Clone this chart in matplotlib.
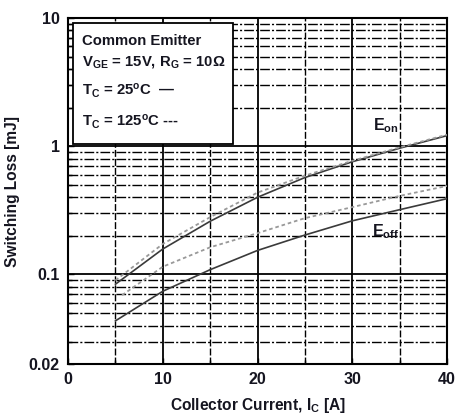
import matplotlib
matplotlib.use("Agg")
import matplotlib.pyplot as plt
from matplotlib.patches import Rectangle
from matplotlib.ticker import FixedLocator, NullFormatter

plt.rcParams["font.family"] = "Liberation Sans"
plt.rcParams["font.weight"] = "bold"
plt.rcParams["mathtext.fontset"] = "custom"
plt.rcParams["mathtext.rm"] = "Liberation Sans:bold"
plt.rcParams["mathtext.it"] = "Liberation Sans:bold"
plt.rcParams["mathtext.bf"] = "Liberation Sans:bold"
plt.rcParams["mathtext.default"] = "rm"

TEXT = "#151520"

# collector current [A] and switching loss [mJ]
ic = [5, 10, 15, 20, 25, 30, 35, 40]
eon_25 = [0.084, 0.158, 0.26, 0.40, 0.57, 0.757, 0.965, 1.21]
eon_125 = [0.09, 0.173, 0.28, 0.435, 0.59, 0.77, 0.98, 1.23]
eoff_25 = [0.0435, 0.074, 0.109, 0.154, 0.203, 0.262, 0.32, 0.39]
ic_eoff_125 = [5.7, 10, 15, 20, 25, 30, 35, 40]
eoff_125 = [0.069, 0.115, 0.163, 0.21, 0.275, 0.335, 0.41, 0.49]

x_ticks = [0, 10, 20, 30, 40]
x_minor = [5, 15, 25, 35]
y_ticks = [0.02, 0.1, 1, 10]
y_tick_labels = ["0.02", "0.1", "1", "10"]
y_minor = [0.03, 0.04, 0.05, 0.06, 0.07, 0.08, 0.09,
           0.2, 0.3, 0.4, 0.5, 0.6, 0.7, 0.8, 0.9,
           2, 3, 4, 5, 6, 7, 8, 9]

fig = plt.figure(figsize=(4.57, 4.19), dpi=100)
ax = fig.add_axes([0.149, 0.131, 0.829, 0.826])
ax.set_yscale("log")
ax.set_xlim(0, 40)
ax.set_ylim(0.02, 10)

# grid: solid majors, dashed / dash-dot minors
for x in [10, 20, 30]:
    ax.axvline(x, color="black", lw=1.3, zorder=0.5)
for x in x_minor:
    ax.axvline(x, color="black", lw=1.0, dashes=(5, 1.5), zorder=0.5)
for y in [0.1, 1]:
    ax.axhline(y, color="black", lw=1.3, zorder=0.5)
for y in y_minor:
    ax.axhline(y, color="black", lw=1.0, dashes=(7, 1.5, 1.5, 1.5), zorder=0.5)

ax.plot(ic, eon_25, color="#3a3a3a", lw=1.2, zorder=3)
ax.plot(ic, eon_125, color="#999999", lw=1.3, dashes=(2, 1.6), zorder=3)
ax.plot(ic, eoff_25, color="#3a3a3a", lw=1.2, zorder=3)
ax.plot(ic_eoff_125, eoff_125, color="#999999", lw=1.3, dashes=(2, 1.6), zorder=3)

ax.text(32.2, 1.45, r"E$_{on}$", fontsize=11.5, color=TEXT, ha="left", va="center", zorder=4)
ax.text(32.1, 0.215, r"E$_{off}$", fontsize=11.5, color=TEXT, ha="left", va="center", zorder=4)

# condition box in the upper left corner
ax.add_patch(Rectangle((0.013, 0.636), 0.422, 0.35, transform=ax.transAxes,
                       facecolor="white", edgecolor="black", lw=1.3, zorder=2))
box_lines = [
    (0.934, "Common Emitter"),
    (0.874, r"V$_{GE}$ = 15V, R$_{G}$ = 10Ω"),
    (0.790, r"T$_{C}$ = 25$^{o}$C  —"),
    (0.700, r"T$_{C}$ = 125$^{o}$C ---"),
]
for y, s in box_lines:
    ax.text(0.037, y, s, transform=ax.transAxes, fontsize=10.7, color=TEXT,
            ha="left", va="center", zorder=4)

ax.xaxis.set_major_locator(FixedLocator(x_ticks))
ax.xaxis.set_minor_locator(FixedLocator(x_minor))
ax.yaxis.set_major_locator(FixedLocator(y_ticks))
ax.yaxis.set_minor_locator(FixedLocator(y_minor))
ax.yaxis.set_minor_formatter(NullFormatter())
ax.set_yticklabels(y_tick_labels)
ax.tick_params(which="both", direction="in", colors="black", labelcolor=TEXT,
               labelsize=11.5, width=1.0)
ax.tick_params(which="major", length=4, pad=6)
ax.tick_params(which="minor", length=3)
for s in ax.spines.values():
    s.set_linewidth(1.5)

ax.set_xlabel(r"Collector Current, I$_{C}$ [A]", fontsize=11.2, fontweight="bold",
              color=TEXT, labelpad=6)
ax.set_ylabel("Switching Loss [mJ]", fontsize=11.2, fontweight="bold",
              color=TEXT, labelpad=6)

fig.savefig("out.png", dpi=100)
